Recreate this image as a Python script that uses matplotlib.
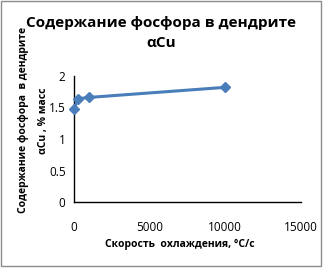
import matplotlib
matplotlib.use("Agg")
import matplotlib.pyplot as plt
from matplotlib.patches import Rectangle

cooling_rate = [10, 300, 1000, 10000]
phosphorus = [1.48, 1.64, 1.66, 1.82]
x_ticks = [0, 5000, 10000, 15000]
y_ticks = [0, 0.5, 1, 1.5, 2]
y_tick_labels = ["0", "0.5", "1", "1.5", "2"]

title = "Содержание фосфора в дендрите\nαCu"
ylabel_1 = "Содержание фосфора  в дендрите"
ylabel_2 = "αCu , % масс"
xlabel = "Скорость  охлаждения, °С/с"

plt.rcParams['font.family'] = ['Open Sans', 'DejaVu Sans']

fig = plt.figure(figsize=(3.24, 2.69), dpi=100)
ax = fig.add_axes([0.228, 0.249, 0.701, 0.4685])

color = "#4A7EBB"
ax.plot(cooling_rate, phosphorus, color=color, lw=2.2, marker="D", ms=5.5,
        markerfacecolor=color, markeredgecolor=color, clip_on=False, zorder=3)

ax.set_xlim(0, 15000)
ax.set_ylim(0, 2)
ax.set_xticks(x_ticks)
ax.set_xticklabels([str(v) for v in x_ticks])
ax.set_yticks(y_ticks)
ax.set_yticklabels(y_tick_labels)
ax.tick_params(axis="both", length=0, labelsize=8.5, colors="#000000")
ax.tick_params(axis="x", pad=14)
ax.tick_params(axis="y", pad=6)
for s in ["top", "right"]:
    ax.spines[s].set_visible(False)
for s in ["left", "bottom"]:
    ax.spines[s].set_linewidth(1.0)
    ax.spines[s].set_color("black")

fig.text(0.497, 0.878, title, ha="center", va="center", fontsize=11,
         fontweight="bold", linespacing=1.5)
fig.text(0.071, 0.555, ylabel_1, ha="center", va="center", rotation=90,
         fontsize=7.5, fontweight="bold")
fig.text(0.133, 0.55, ylabel_2, ha="center", va="center", rotation=90,
         fontsize=7.5, fontweight="bold")
fig.text(0.555, 0.093, xlabel, ha="center", va="center", fontsize=7.5,
         fontweight="bold")

fig.patches.append(Rectangle((0.003, 0.011), 0.988, 0.985, transform=fig.transFigure,
                             fill=False, edgecolor="#8c8c8c", lw=1.0))

fig.savefig("out.png", dpi=100)
